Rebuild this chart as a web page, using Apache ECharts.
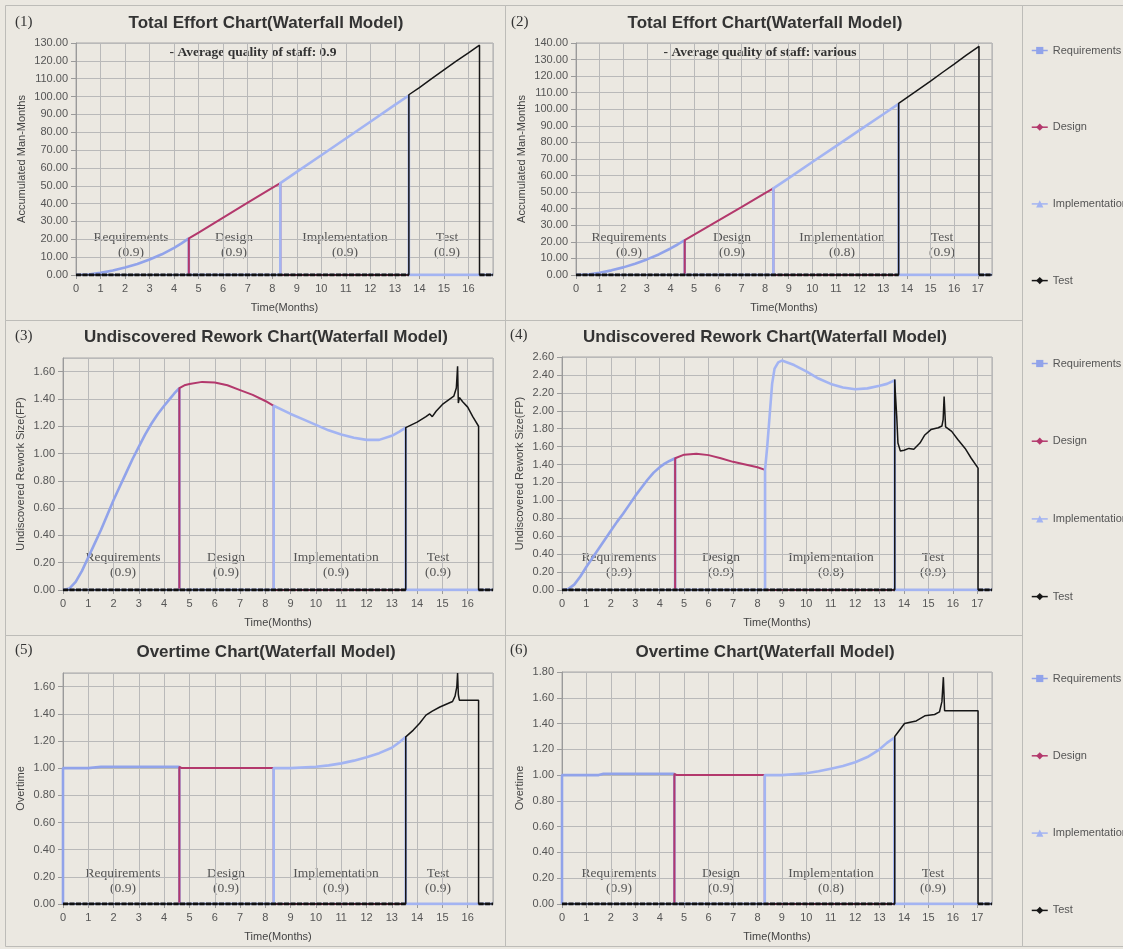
<!DOCTYPE html>
<html><head><meta charset="utf-8">
<script src="https://cdn.jsdelivr.net/npm/echarts@6/dist/echarts.min.js"></script>
<style>html,body{margin:0;padding:0;background:#ebe8e1}#c{width:1123px;height:949px}</style>
</head><body><div id="c"></div><script>
// ---------- DATA (months, value) ----------
const p1Req  = [[0,0],[0.5,0.3],[1,1.2],[1.5,2.5],[2,4.2],[2.5,6.2],[3,8.7],[3.5,11.6],[4,15.2],[4.3,17.7],[4.6,20.5],[4.6,0],[17,0]];
const p1Des  = [[0,0],[4.6,0],[4.6,20.5],[5,23.8],[6,32.2],[7,40.5],[8,48.8],[8.33,51.5],[8.33,0],[17,0]];
const p1Imp  = [[0,0],[8.33,0],[8.33,51.5],[9,57.8],[10,67.1],[11,76.5],[12,85.9],[13,95.3],[13.57,100.6],[13.57,0],[17,0]];
const p1Test = [[0,0],[13.57,0],[13.57,101],[14,105],[14.5,110],[15,115],[15.5,119.8],[16,124.5],[16.45,128.8],[16.45,0],[17,0]];

const p2Req  = [[0,0],[0.5,0.3],[1,1.3],[1.5,2.8],[2,4.6],[2.5,6.8],[3,9.4],[3.5,12.4],[4,16],[4.3,18.4],[4.6,21],[4.6,0],[17.6,0]];
const p2Des  = [[0,0],[4.6,0],[4.6,21],[5,24.3],[6,32.7],[7,41],[8,49.4],[8.35,52.3],[8.35,0],[17.6,0]];
const p2Imp  = [[0,0],[8.35,0],[8.35,52.3],[9,58.5],[10,68.2],[11,77.8],[12,87.4],[13,97],[13.65,103.3],[13.65,0],[17.6,0]];
const p2Test = [[0,0],[13.65,0],[13.65,103.5],[14,107],[14.5,112],[15,117],[15.5,122.2],[16,127.3],[16.5,132.5],[17.05,138],[17.05,0],[17.6,0]];

const p3Req  = [[0,0],[0.25,0.01],[0.5,0.06],[0.75,0.14],[1,0.24],[1.25,0.34],[1.5,0.44],[1.75,0.55],[2,0.66],[2.25,0.76],[2.5,0.86],[2.75,0.96],[3,1.05],[3.25,1.14],[3.5,1.22],[3.75,1.29],[4,1.35],[4.2,1.395],[4.4,1.44],[4.6,1.48],[4.6,0],[17,0]];
const p3Des  = [[0,0],[4.6,0],[4.6,1.48],[4.8,1.5],[5,1.51],[5.5,1.525],[6,1.52],[6.5,1.5],[7,1.465],[7.5,1.43],[8,1.385],[8.33,1.35],[8.33,0],[17,0]];
const p3Imp  = [[0,0],[8.33,0],[8.33,1.35],[9,1.29],[9.5,1.25],[10,1.21],[10.5,1.17],[11,1.14],[11.5,1.115],[12,1.1],[12.5,1.1],[13,1.13],[13.3,1.16],[13.55,1.19],[13.55,0],[17,0]];
const p3Test = [[0,0],[13.55,0],[13.55,1.19],[14,1.23],[14.35,1.27],[14.5,1.29],[14.6,1.27],[14.75,1.31],[15,1.36],[15.3,1.4],[15.45,1.42],[15.55,1.48],[15.6,1.64],[15.63,1.37],[15.67,1.41],[15.8,1.38],[16,1.34],[16.2,1.27],[16.43,1.2],[16.43,0],[17,0]];

const p4Req  = [[0,0],[0.25,0.01],[0.5,0.06],[0.75,0.15],[1,0.26],[1.25,0.36],[1.5,0.46],[1.75,0.56],[2,0.66],[2.25,0.76],[2.5,0.85],[2.75,0.95],[3,1.05],[3.25,1.14],[3.5,1.23],[3.75,1.31],[4,1.37],[4.2,1.41],[4.4,1.44],[4.63,1.47],[4.63,0],[17.6,0]];
const p4Des  = [[0,0],[4.63,0],[4.63,1.47],[5,1.51],[5.5,1.52],[6,1.505],[6.5,1.47],[7,1.43],[7.5,1.4],[8,1.37],[8.31,1.34],[8.31,0],[17.6,0]];
const p4Imp  = [[0,0],[8.31,0],[8.31,1.34],[8.4,1.6],[8.5,1.95],[8.6,2.3],[8.7,2.47],[8.85,2.54],[9,2.56],[9.5,2.51],[10,2.44],[10.5,2.36],[11,2.3],[11.5,2.26],[12,2.24],[12.5,2.25],[13,2.28],[13.3,2.3],[13.62,2.34],[13.62,0],[17.6,0]];
const p4Test = [[0,0],[13.62,0],[13.62,2.35],[13.64,2.22],[13.7,1.94],[13.75,1.64],[13.85,1.55],[14,1.56],[14.2,1.58],[14.4,1.57],[14.65,1.64],[14.85,1.73],[15.1,1.79],[15.4,1.81],[15.55,1.83],[15.6,1.9],[15.64,2.16],[15.7,1.82],[15.95,1.77],[16.2,1.68],[16.5,1.58],[16.75,1.47],[17.03,1.36],[17.03,0],[17.6,0]];

const p5Req  = [[0,0],[0,1.0],[1,1.0],[1.5,1.01],[4.6,1.01],[4.6,0],[17,0]];
const p5Des  = [[0,0],[4.6,0],[4.6,1.01],[4.7,1.0],[8.33,1.0],[8.33,0],[17,0]];
const p5Imp  = [[0,0],[8.33,0],[8.33,1.0],[9,1.0],[10,1.01],[10.5,1.02],[11,1.035],[11.5,1.055],[12,1.08],[12.5,1.11],[13,1.15],[13.3,1.19],[13.55,1.23],[13.55,0],[17,0]];
const p5Test = [[0,0],[13.55,0],[13.55,1.23],[13.85,1.28],[14.1,1.33],[14.35,1.39],[14.6,1.42],[14.9,1.45],[15.15,1.47],[15.4,1.49],[15.5,1.53],[15.57,1.6],[15.6,1.7],[15.63,1.54],[15.67,1.5],[16.43,1.5],[16.43,0],[17,0]];

const p6Req  = [[0,0],[0,1.0],[1.5,1.0],[1.7,1.01],[4.6,1.01],[4.6,0],[17.6,0]];
const p6Des  = [[0,0],[4.6,0],[4.6,1.01],[4.7,1.0],[8.3,1.0],[8.3,0],[17.6,0]];
const p6Imp  = [[0,0],[8.3,0],[8.3,1.0],[9,1.0],[10,1.015],[10.5,1.03],[11,1.05],[11.5,1.07],[12,1.1],[12.5,1.14],[13,1.2],[13.3,1.25],[13.6,1.29],[13.6,0],[17.6,0]];
const p6Test = [[0,0],[13.62,0],[13.62,1.3],[13.82,1.35],[14.02,1.4],[14.25,1.41],[14.5,1.42],[14.85,1.46],[15.25,1.47],[15.45,1.49],[15.55,1.57],[15.61,1.76],[15.66,1.5],[17.03,1.5],[17.03,0],[17.6,0]];

const seriesNames = ['Requirements','Design','Implementation','Test'];
const titles = ['Total Effort Chart(Waterfall Model)','Total Effort Chart(Waterfall Model)',
  'Undiscovered Rework Chart(Waterfall Model)','Undiscovered Rework Chart(Waterfall Model)',
  'Overtime Chart(Waterfall Model)','Overtime Chart(Waterfall Model)'];
const panelNums = ['(1)','(2)','(3)','(4)','(5)','(6)'];
const notes = ['- Average quality of staff: 0.9','- Average quality of staff: various'];
const yNames = ['Accumulated Man-Months','Accumulated Man-Months','Undiscovered Rework Size(FP)','Undiscovered Rework Size(FP)','Overtime','Overtime'];
const xName = 'Time(Months)';
const phaseNames = ['Requirements','Design','Implementation','Test'];
const qualityLeft = ['(0.9)','(0.9)','(0.9)','(0.9)'];
const qualityRight = ['(0.9)','(0.9)','(0.8)','(0.9)'];
const xMaxes = [17,17.6,17,17.6,17,17.6];
const yMaxes = [130,140,1.7,2.6,1.7,1.8];
const yIntervals = [10,10,0.2,0.2,0.2,0.2];

// ---------- LAYOUT / STYLE ----------
const panelData = [[p1Req,p1Des,p1Imp,p1Test],[p2Req,p2Des,p2Imp,p2Test],[p3Req,p3Des,p3Imp,p3Test],
                   [p4Req,p4Des,p4Imp,p4Test],[p5Req,p5Des,p5Imp,p5Test],[p6Req,p6Des,p6Imp,p6Test]];
const grids = [
  {left:76, top:43, width:417, height:232},
  {left:576, top:43, width:416, height:232},
  {left:63, top:358, width:430, height:232},
  {left:562, top:357, width:430, height:233},
  {left:63, top:673, width:430, height:231},
  {left:562, top:672, width:430, height:232}
];
const nameGaps = [49,49,37,37,37,37];
const styles = {
  Requirements:{color:'#91a3ea', width:2.6, symbol:'rect'},
  Design:{color:'#b3386c', width:2, symbol:'diamond'},
  Implementation:{color:'#a3b4f2', width:2.6, symbol:'triangle'},
  Test:{color:'#161616', width:1.5, symbol:'diamond'}
};

function zeroRuns(d){
  const out=[]; let prev=false;
  for (const [x,y] of d){
    if (y===0){ out.push([x,0]); prev=true; }
    else { if (prev) out.push([x,'-']); prev=false; }
  }
  return out;
}

const fontSans = '"Liberation Sans", Arial, sans-serif';
const fontSerif = '"Liberation Serif", "Times New Roman", serif';

const xAxes = [], yAxes = [], series = [];
grids.forEach((g,i)=>{
  xAxes.push({type:'value', gridIndex:i, min:0, max:xMaxes[i], interval:1,
    name:xName, nameLocation:'middle', nameGap:27,
    nameTextStyle:{fontSize:11, color:'#444', fontFamily:fontSans},
    axisLine:{show:true, lineStyle:{color:'#9a9a9a'}},
    axisTick:{show:true, length:4, lineStyle:{color:'#9a9a9a'}},
    axisLabel:{fontSize:11, color:'#555', margin:8, fontFamily:fontSans, showMaxLabel:false},
    splitLine:{show:true, lineStyle:{color:'#b9b9b9', width:1}}
  });
  const rem = yMaxes[i] / yIntervals[i];
  yAxes.push({type:'value', gridIndex:i, min:0, max:yMaxes[i], interval:yIntervals[i],
    name:yNames[i], nameLocation:'middle', nameGap:nameGaps[i],
    nameTextStyle:{fontSize:11, color:'#444', fontFamily:fontSans},
    axisLine:{show:true, lineStyle:{color:'#9a9a9a'}},
    axisTick:{show:true, length:5, lineStyle:{color:'#9a9a9a'}},
    axisLabel:{fontSize:11, color:'#555', margin:8, fontFamily:fontSans,
      showMaxLabel: Math.abs(rem - Math.round(rem)) < 1e-6,
      formatter:v=>v.toFixed(2)},
    splitLine:{show:true, lineStyle:{color:'#b9b9b9', width:1}}
  });
  seriesNames.forEach((nm,k)=>{
    const st = styles[nm];
    series.push({type:'line', name:nm, xAxisIndex:i, yAxisIndex:i, data:panelData[i][k],
      symbol:st.symbol, symbolSize:7, showSymbol:false, z:3+k, animation:false,
      lineStyle:{color:st.color, width:st.width}, itemStyle:{color:st.color},
      emphasis:{disabled:true}});
  });
  series.push({type:'line', name:'Test', xAxisIndex:i, yAxisIndex:i, data:zeroRuns(panelData[i][3]),
    symbol:'none', showSymbol:false, z:8, animation:false, connectNulls:false,
    lineStyle:{color:'#111', width:3, type:[5,1.5]}, emphasis:{disabled:true}});
});

const legendTops = [40,353,668];
const legendGaps = [65.7,66.7,66.3];
const legends = legendTops.map((t,r)=>({orient:'vertical', left:1026, top:t, itemGap:legendGaps[r],
  itemWidth:16, itemHeight:9, selectedMode:false, data:seriesNames,
  lineStyle:{width:1.5},
  textStyle:{fontSize:11, color:'#555', fontFamily:fontSans}}));

// ---------- annotation graphics ----------
const panelRects = [[5,5,500,315],[505,5,517,315],[5,320,500,315],[505,320,517,315],[5,635,500,311],[505,635,517,311],[1022,5,110,941]];
const titlePos = [[266,23],[765,23],[266,337],[765,337],[266,652],[765,652]];
const numPos = [[15,22],[511,22],[15,336],[510,335],[15,650],[510,650]];
const notePos = [[253,52.5],[760,52.5]];
const phaseX = [[131,234,345,447],[629,732,842,942],[123,226,336,438],[619,721,831,933],[123,226,336,438],[619,721,831,933]];
const phaseY = [237,237,557,557,873,873];

const graphics = [];
panelRects.forEach(r=>graphics.push({type:'rect', silent:true, z:-10,
  shape:{x:r[0]+0.5,y:r[1]+0.5,width:r[2],height:r[3]}, style:{fill:'none', stroke:'#bdbcb8', lineWidth:1}}));
titles.forEach((t,i)=>graphics.push({type:'text', silent:true, x:titlePos[i][0], y:titlePos[i][1],
  style:{text:t, font:'bold 17px '+fontSans, fill:'#333', align:'center', verticalAlign:'middle'}}));
panelNums.forEach((t,i)=>graphics.push({type:'text', silent:true, x:numPos[i][0], y:numPos[i][1],
  style:{text:t, font:'15px '+fontSerif, fill:'#333', align:'left', verticalAlign:'middle'}}));
notes.forEach((t,i)=>graphics.push({type:'text', silent:true, x:notePos[i][0], y:notePos[i][1],
  style:{text:t, font:'bold 13.5px '+fontSerif, fill:'#333', align:'center', verticalAlign:'middle'}}));
phaseX.forEach((xs,i)=>{
  const q = (i%2===0) ? qualityLeft : qualityRight;
  xs.forEach((x,k)=>{
    graphics.push({type:'text', silent:true, x:x, y:phaseY[i],
      style:{text:phaseNames[k], font:'13.5px '+fontSerif, fill:'#555', align:'center', verticalAlign:'middle'}});
    graphics.push({type:'text', silent:true, x:x, y:phaseY[i]+15,
      style:{text:q[k], font:'13.5px '+fontSerif, fill:'#555', align:'center', verticalAlign:'middle'}});
  });
});

const chart = echarts.init(document.getElementById('c'), null, {renderer:'canvas'});
chart.setOption({
  backgroundColor:'#ebe8e1',
  animation:false,
  tooltip:{show:false},
  grid: grids.map(g=>Object.assign({show:true, borderColor:'#a8a8a8', borderWidth:1, backgroundColor:'transparent'}, g)),
  xAxis:xAxes, yAxis:yAxes, series:series, legend:legends, graphic:graphics
});
</script></body></html>
